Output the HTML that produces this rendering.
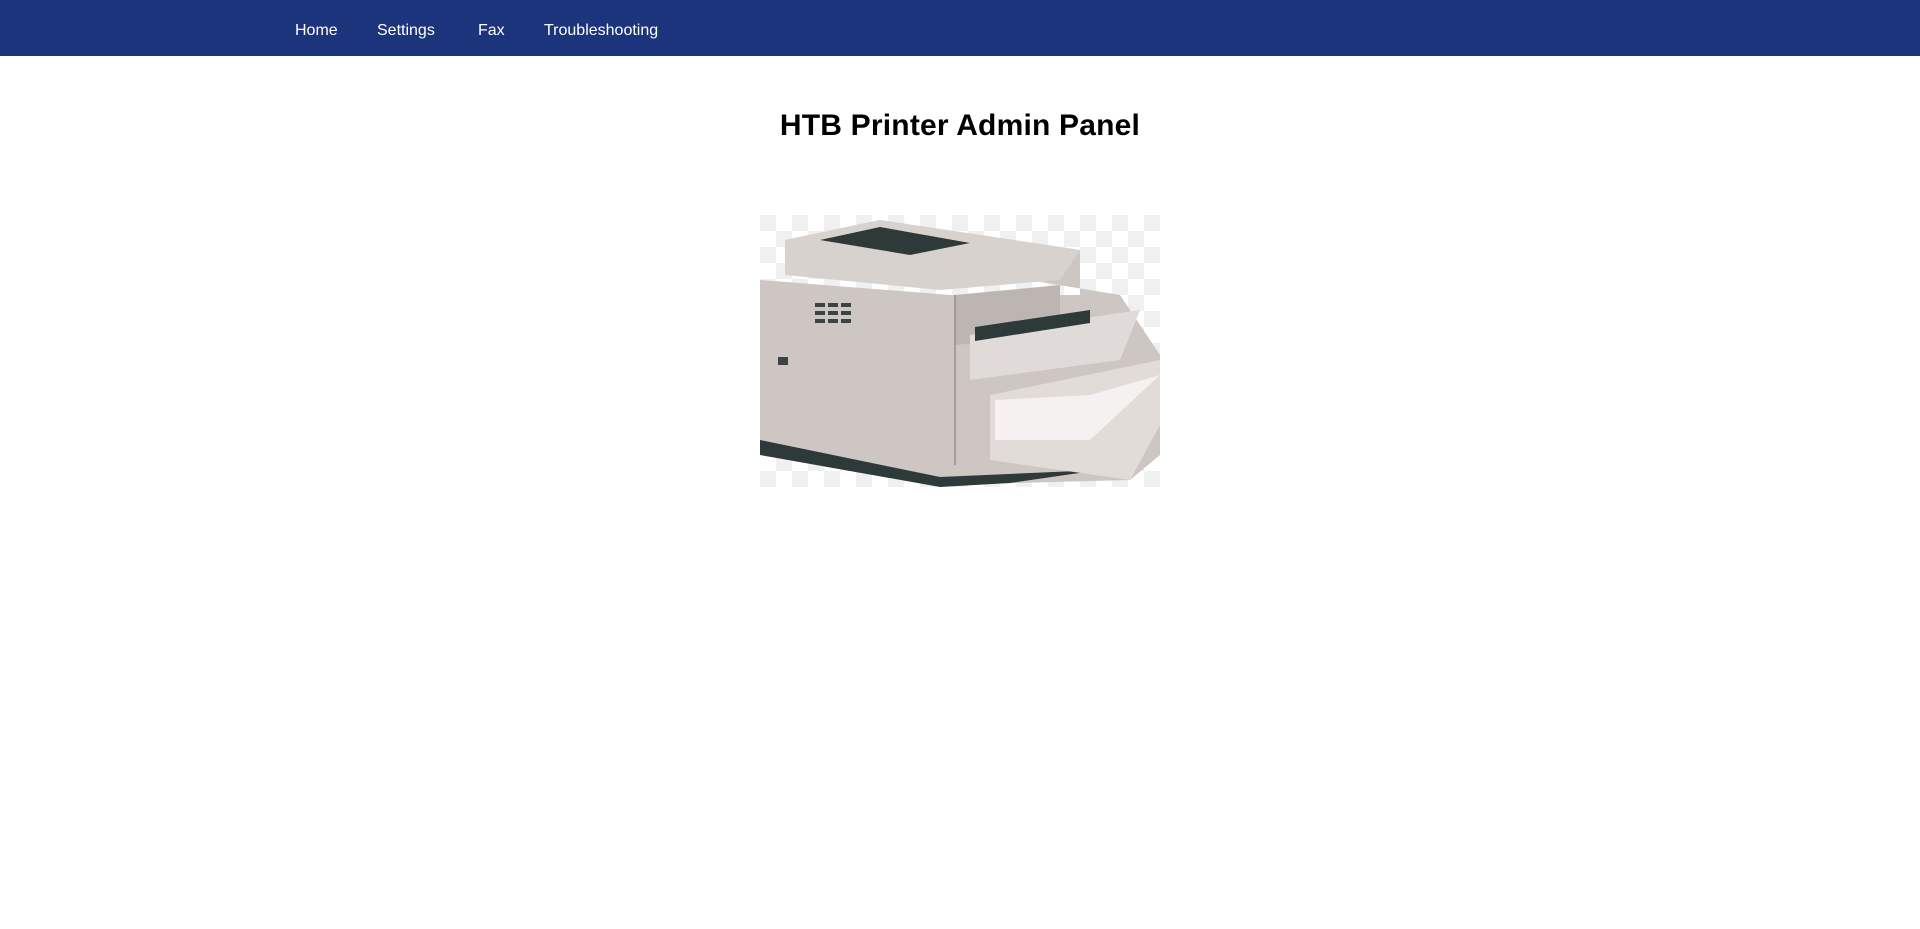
<!DOCTYPE html>
<html><head><meta charset="utf-8"><style>
body{margin:0;background:#fff;font-family:"Liberation Sans",sans-serif;width:1920px;height:929px;overflow:hidden;position:relative}
nav{position:absolute;left:0;top:0;width:1920px;height:56px;background:#1b347b}
nav a{position:absolute;top:22px;color:#fff;font-size:16px;text-decoration:none}
h1{position:absolute;top:109px;left:0;width:1920px;text-align:center;margin:0;font-size:30px;font-weight:bold;color:#000;letter-spacing:0.2px}
svg{position:absolute;left:760px;top:215px}
</style></head><body>
<nav><a style="left:295px">Home</a><a style="left:377px">Settings</a><a style="left:478px">Fax</a><a style="left:544px">Troubleshooting</a></nav>
<h1>HTB Printer Admin Panel</h1>
<svg width="400" height="272" viewBox="0 0 400 272">
<defs><pattern id="c" width="32" height="32" patternUnits="userSpaceOnUse"><rect width="32" height="32" fill="#fff"/><rect width="16" height="16" fill="#f0f0f0"/><rect x="16" y="16" width="16" height="16" fill="#f0f0f0"/></pattern></defs>
<rect width="400" height="272" fill="url(#c)"/>
<polygon points="25,25 120,5 320,35 320,80 190,80 0,65 0,230 180,270 370,265 400,240 400,140 360,80" fill="#cdc6c3"/>
<polygon points="25,25 120,5 320,35 300,65 180,75 25,60" fill="#d8d2cf"/>
<polygon points="60,25 120,12 210,28 150,40" fill="#2e3a3a"/>
<polygon points="0,225 180,262 340,255 250,268 180,272 0,240" fill="#2e3a3a"/>
<polygon points="195,80 300,70 300,120 195,130" fill="#bcb5b2"/>
<polygon points="210,120 380,95 360,145 210,165" fill="#e0dbd8"/>
<polygon points="215,112 330,95 330,108 215,126" fill="#2e3a3a"/>
<polygon points="230,180 400,145 400,210 370,265 230,245" fill="#e2dcd9"/>
<polygon points="235,185 330,180 400,160 330,225 235,225" fill="#f4f1f0"/>
<line x1="195" y1="80" x2="195" y2="250" stroke="#777" stroke-width="1"/>
<g fill="#3a4444"><rect x="55" y="88" width="10" height="4"/><rect x="68" y="88" width="10" height="4"/><rect x="81" y="88" width="10" height="4"/><rect x="55" y="96" width="10" height="4"/><rect x="68" y="96" width="10" height="4"/><rect x="81" y="96" width="10" height="4"/><rect x="55" y="104" width="10" height="4"/><rect x="68" y="104" width="10" height="4"/><rect x="81" y="104" width="10" height="4"/><rect x="18" y="142" width="10" height="8"/></g>
</svg>
</body></html>
